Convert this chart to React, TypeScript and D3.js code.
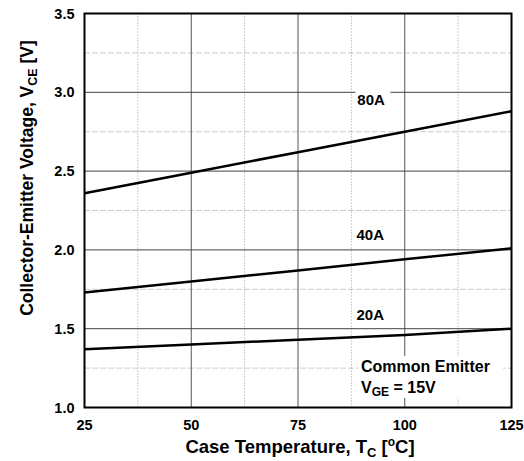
import React from "react";
import * as d3 from "d3";

const temps = [25, 50, 75, 100, 125];
const v80 = [2.36, 2.49, 2.62, 2.75, 2.88];
const v40 = [1.73, 1.8, 1.87, 1.94, 2.01];
const v20 = [1.37, 1.4, 1.43, 1.46, 1.5];
const seriesLabels = ["80A", "40A", "20A"];
const xTicks = [25, 50, 75, 100, 125];
const xMinor = [37.5, 62.5, 87.5, 112.5];
const yTicks = [1.0, 1.5, 2.0, 2.5, 3.0, 3.5];
const yMinor = [1.25, 1.75, 2.25, 2.75, 3.25];
const labelPos = [
  { t: 88.9, v: 2.954 },
  { t: 88.7, v: 2.098 },
  { t: 88.7, v: 1.59 },
];

export default function App() {
  const W = 524, H = 461;
  const L = 84.5, R = 511.5, T = 13.5, B = 407.5;
  const x = d3.scaleLinear().domain([25, 125]).range([L, R]);
  const y = d3.scaleLinear().domain([1, 3.5]).range([B, T]);
  const line = d3.line<number>().x((_, i) => x(temps[i])).y((d) => y(d));
  const font = "'Liberation Sans', Arial, sans-serif";
  const series = [v80, v40, v20];
  return (
    <svg width={W} height={H} style={{ position: "absolute", left: 0, top: 0 }} fontFamily={font} fontWeight="bold">
      <rect width={W} height={H} fill="#fff" />
      {xMinor.map((t) => (
        <line key={"xm" + t} x1={x(t)} x2={x(t)} y1={T} y2={B} stroke="#999" strokeWidth={1} strokeDasharray="1,2" />
      ))}
      {yMinor.map((v) => (
        <line key={"ym" + v} x1={L} x2={R} y1={y(v)} y2={y(v)} stroke="#999" strokeWidth={1} strokeDasharray="1,1,1,1,1,3" />
      ))}
      {xTicks.slice(1, -1).map((t) => (
        <line key={"xg" + t} x1={x(t)} x2={x(t)} y1={T} y2={B} stroke="#555" strokeWidth={1} />
      ))}
      {yTicks.slice(1, -1).map((v) => (
        <line key={"yg" + v} x1={L} x2={R} y1={y(v)} y2={y(v)} stroke="#444" strokeWidth={1} />
      ))}
      {series.map((s, i) => (
        <path key={"s" + i} d={line(s) || ""} fill="none" stroke="#000" strokeWidth={2.5} />
      ))}
      {seriesLabels.map((lab, i) => (
        <g key={lab}>
          <rect x={x(labelPos[i].t) - 2} y={y(labelPos[i].v) - 9} width={35} height={18} fill="#fff" />
          <text x={x(labelPos[i].t)} y={y(labelPos[i].v) + 5.5} fontSize={15}>{lab}</text>
        </g>
      ))}
      <rect x={L} y={T} width={R - L} height={B - T} fill="none" stroke="#000" strokeWidth={2} />
      <rect x={358} y={356} width={145} height={42} fill="#fff" />
      <text x={361} y={372} fontSize={16}>Common Emitter</text>
      <text x={361} y={393} fontSize={16}>
        V<tspan fontSize={12} dy={3}>GE</tspan><tspan dy={-3}> = 15V</tspan>
      </text>
      {yTicks.map((v) => (
        <text key={"yl" + v} x={L - 10} y={y(v) + 5} fontSize={14.5} textAnchor="end">{v.toFixed(1)}</text>
      ))}
      {xTicks.map((t) => (
        <text key={"xl" + t} x={x(t)} y={B + 22} fontSize={14.5} textAnchor="middle">{t}</text>
      ))}
      <text x={300} y={453} fontSize={18.5} textAnchor="middle">
        Case Temperature, T<tspan fontSize={13} dy={4}>C</tspan><tspan dy={-4}> [</tspan><tspan fontSize={12} dy={-7}>o</tspan><tspan dy={7}>C]</tspan>
      </text>
      <text transform={`translate(33,178) rotate(-90)`} fontSize={17.5} textAnchor="middle">
        Collector-Emitter Voltage, V<tspan fontSize={12.5} dy={4}>CE</tspan><tspan dy={-4}> [V]</tspan>
      </text>
    </svg>
  );
}
